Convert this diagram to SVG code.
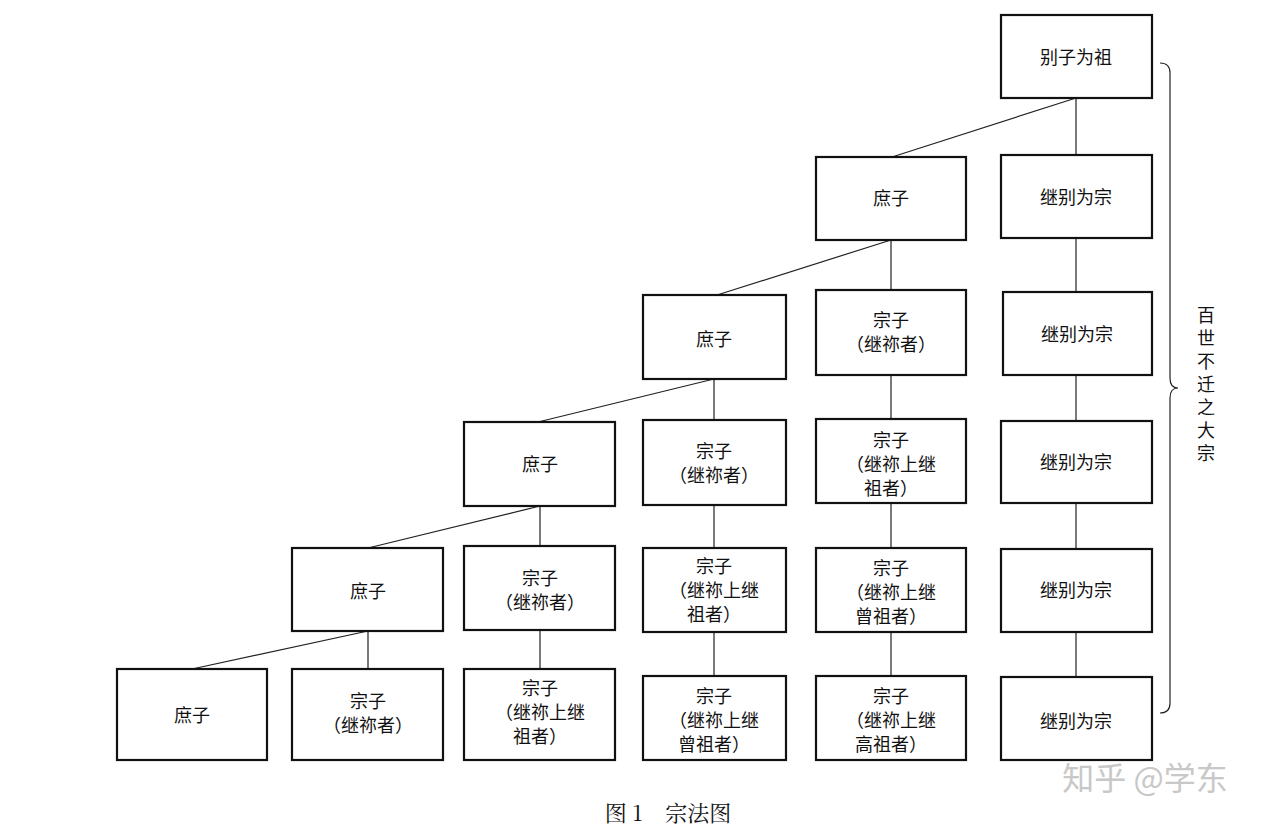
<svg xmlns="http://www.w3.org/2000/svg" width="1280" height="831" viewBox="0 0 1280 831">
<style>
.b{fill:#fff;stroke:#111;stroke-width:2.2}
.t{font-family:"Noto Sans CJK SC","Noto Sans",sans-serif;font-size:18px;fill:#111;text-anchor:middle}
.c{stroke:#222;stroke-width:1.2;fill:none}
</style>
<rect width="1280" height="831" fill="#fff"/>
<g id="connectors">
<path class="c" d="M1076 98L1076 155M1076 238L1076 292M1076 375L1076 421M1076 503L1076 549M1076 632L1076 677"/>
<path class="c" d="M1076 98L892 157M891 240L717 295M891 240L891 290M891 375L891 419M891 503L891 548M891 632L891 676"/>
<path class="c" d="M714 379L538 422M714 379L714 420M714 505L714 548M714 632L714 676"/>
<path class="c" d="M540 506L368 548M540 506L540 546M540 630L540 669"/>
<path class="c" d="M368 631L192 669M368 631L368 669"/>
<path class="c" d="M1160 63Q1170 63 1170 73L1170 378Q1170 388 1178 388Q1170 388 1170 398L1170 703Q1170 713 1160 713"/>
</g>
<g id="n1"><rect class="b" x="1001" y="15" width="151" height="83"/><text class="t" x="1076" y="64">别子为祖</text></g>
<g id="n2"><rect class="b" x="1001" y="155" width="151" height="83"/><text class="t" x="1076" y="204">继别为宗</text></g>
<g id="n3"><rect class="b" x="1003" y="292" width="149" height="83"/><text class="t" x="1077" y="341">继别为宗</text></g>
<g id="n4"><rect class="b" x="1001" y="421" width="151" height="82"/><text class="t" x="1076" y="469">继别为宗</text></g>
<g id="n5"><rect class="b" x="1001" y="549" width="151" height="83"/><text class="t" x="1076" y="597">继别为宗</text></g>
<g id="n6"><rect class="b" x="1001" y="677" width="151" height="83"/><text class="t" x="1076" y="728">继别为宗</text></g>
<g id="n7"><rect class="b" x="816" y="157" width="150" height="83"/><text class="t" x="891" y="205">庶子</text></g>
<g id="n8"><rect class="b" x="816" y="290" width="150" height="85"/><text class="t" x="891" y="327">宗子</text><text class="t" x="891" y="351">（继祢者）</text></g>
<g id="n9"><rect class="b" x="816" y="419" width="150" height="84"/><text class="t" x="891" y="447">宗子</text><text class="t" x="891" y="471">（继祢上继</text><text class="t" x="891" y="495">祖者）</text></g>
<g id="n10"><rect class="b" x="816" y="548" width="150" height="84"/><text class="t" x="891" y="575">宗子</text><text class="t" x="891" y="599">（继祢上继</text><text class="t" x="891" y="623">曾祖者）</text></g>
<g id="n11"><rect class="b" x="816" y="676" width="150" height="84"/><text class="t" x="891" y="703">宗子</text><text class="t" x="891" y="727">（继祢上继</text><text class="t" x="891" y="751">高祖者）</text></g>
<g id="n12"><rect class="b" x="643" y="295" width="143" height="84"/><text class="t" x="714" y="346">庶子</text></g>
<g id="n13"><rect class="b" x="643" y="420" width="143" height="85"/><text class="t" x="714" y="458">宗子</text><text class="t" x="714" y="482">（继祢者）</text></g>
<g id="n14"><rect class="b" x="643" y="548" width="143" height="84"/><text class="t" x="714" y="573">宗子</text><text class="t" x="714" y="597">（继祢上继</text><text class="t" x="714" y="621">祖者）</text></g>
<g id="n15"><rect class="b" x="643" y="676" width="143" height="84"/><text class="t" x="714" y="703">宗子</text><text class="t" x="714" y="727">（继祢上继</text><text class="t" x="714" y="751">曾祖者）</text></g>
<g id="n16"><rect class="b" x="464" y="422" width="151" height="84"/><text class="t" x="540" y="471">庶子</text></g>
<g id="n17"><rect class="b" x="464" y="546" width="151" height="84"/><text class="t" x="540" y="585">宗子</text><text class="t" x="540" y="609">（继祢者）</text></g>
<g id="n18"><rect class="b" x="464" y="669" width="151" height="91"/><text class="t" x="540" y="695">宗子</text><text class="t" x="540" y="719">（继祢上继</text><text class="t" x="540" y="743">祖者）</text></g>
<g id="n19"><rect class="b" x="292" y="548" width="151" height="83"/><text class="t" x="368" y="598">庶子</text></g>
<g id="n20"><rect class="b" x="292" y="669" width="151" height="91"/><text class="t" x="368" y="708">宗子</text><text class="t" x="368" y="732">（继祢者）</text></g>
<g id="n21"><rect class="b" x="117" y="669" width="150" height="91"/><text class="t" x="192" y="722">庶子</text></g>
<text x="1206" y="306" style="font-family:'Noto Sans CJK SC',sans-serif;font-size:18px;fill:#111;writing-mode:vertical-rl;letter-spacing:5px">百世不迁之大宗</text>
<text x="668" y="821" style="font-family:'Noto Serif CJK SC','Noto Sans CJK SC',serif;font-size:22px;fill:#111;text-anchor:middle" xml:space="preserve">图 1    宗法图</text>
<text x="1145" y="790" style="font-family:'Noto Sans CJK SC',sans-serif;font-size:32px;fill:#c8c8c8;text-anchor:middle">知乎 @学东</text>
</svg>
